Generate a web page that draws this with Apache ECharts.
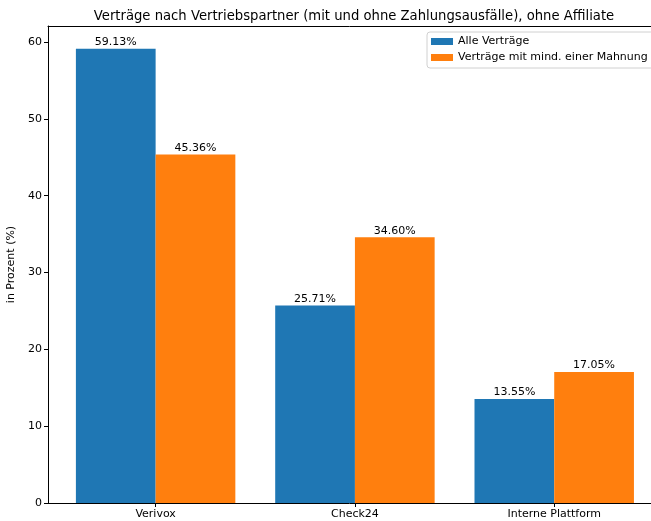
<!DOCTYPE html>
<html>
<head>
    <meta charset="utf-8">
    <title>Verträge nach Vertriebspartner</title>
    <script src="https://cdn.jsdelivr.net/npm/echarts@6/dist/echarts.min.js"></script>
    <style>
        html, body { margin: 0; padding: 0; background: #fff; }
        #chart { width: 651px; height: 521px; }
    </style>
</head>
<body>
<div id="chart"></div>
<script>
    // Daten
    var partner = ['Verivox', 'Check24', 'Interne Plattform'];
    var alleVertraege = [59.13, 25.71, 13.55];
    var mitMahnung = [45.36, 34.60, 17.05];
    var yTicks = [0, 10, 20, 30, 40, 50, 60];
    var xTicks = [0, 1, 2];

    var font = 'DejaVu Sans';

    // Paare [position, wert] fuer die Wertachse
    function pairs(values) {
        return values.map(function (v, i) { return [i, v]; });
    }

    // Achse beginnt bei -0.54 wie in matplotlib, rechter Rand liegt ausserhalb des Bildes
    var gridLeft = 48, gridWidth = 603;
    var pxPerCat = 199.3;
    var xMax = -0.54 + gridWidth / pxPerCat;
    var barW = pxPerCat * 0.4;

    var chart = echarts.init(document.getElementById('chart'));
    chart.setOption({
        animation: false,
        title: {
            text: 'Verträge nach Vertriebspartner (mit und ohne Zahlungsausfälle), ohne Affiliate',
            left: 349,
            textAlign: 'center',
            top: 5,
            textStyle: { fontFamily: font, fontSize: 13.2, fontWeight: 'normal', color: '#000' }
        },
        legend: {
            orient: 'vertical',
            left: 427,
            top: 32,
            icon: 'rect',
            itemWidth: 22,
            itemHeight: 7,
            itemGap: 5,
            padding: [4, 6, 5, 4],
            borderColor: '#d0d0d0',
            borderWidth: 1,
            borderRadius: 3,
            backgroundColor: 'rgba(255,255,255,0.8)',
            textStyle: { fontFamily: font, fontSize: 11, color: '#000' },
            data: ['Alle Verträge', 'Verträge mit mind. einer Mahnung']
        },
        grid: { left: gridLeft, top: 26, width: gridWidth, bottom: 18, outerBoundsMode: 'none' },
        xAxis: [
            {
                type: 'value',
                min: -0.54,
                max: xMax,
                splitLine: { show: false },
                axisLine: { onZero: false, lineStyle: { color: '#000' } },
                axisTick: { customValues: xTicks, length: 4, lineStyle: { color: '#000' } },
                axisLabel: {
                    customValues: xTicks,
                    margin: 6,
                    fontFamily: font, fontSize: 11, color: '#000',
                    formatter: function (v) { return partner[Math.round(v)]; }
                }
            },
            {
                // obere Rahmenlinie
                type: 'value',
                position: 'top',
                min: -0.54,
                max: xMax,
                splitLine: { show: false },
                axisLine: { show: true, onZero: false, lineStyle: { color: '#000' } },
                axisTick: { show: false },
                axisLabel: { show: false }
            }
        ],
        yAxis: {
            type: 'value',
            min: 0,
            max: 62.09,
            name: 'in Prozent (%)',
            nameLocation: 'middle',
            nameGap: 28,
            nameTextStyle: { fontFamily: font, fontSize: 11, color: '#000' },
            splitLine: { show: false },
            axisLine: { show: true, onZero: false, lineStyle: { color: '#000' } },
            axisTick: { show: true, customValues: yTicks, length: 4, lineStyle: { color: '#000' } },
            axisLabel: { customValues: yTicks, margin: 6, fontFamily: font, fontSize: 11, color: '#000' }
        },
        series: [
            {
                name: 'Alle Verträge',
                type: 'bar',
                data: pairs(alleVertraege),
                barWidth: barW,
                barGap: '0%',
                itemStyle: { color: '#1f77b4' },
                label: {
                    show: true, position: 'top', distance: 1,
                    fontFamily: font, fontSize: 11, color: '#000',
                    formatter: function (p) { return p.value[1].toFixed(2) + '%'; }
                }
            },
            {
                name: 'Verträge mit mind. einer Mahnung',
                type: 'bar',
                data: pairs(mitMahnung),
                barWidth: barW,
                barGap: '0%',
                itemStyle: { color: '#ff7f0e' },
                label: {
                    show: true, position: 'top', distance: 1,
                    fontFamily: font, fontSize: 11, color: '#000',
                    formatter: function (p) { return p.value[1].toFixed(2) + '%'; }
                }
            }
        ]
    });
</script>
</body>
</html>
